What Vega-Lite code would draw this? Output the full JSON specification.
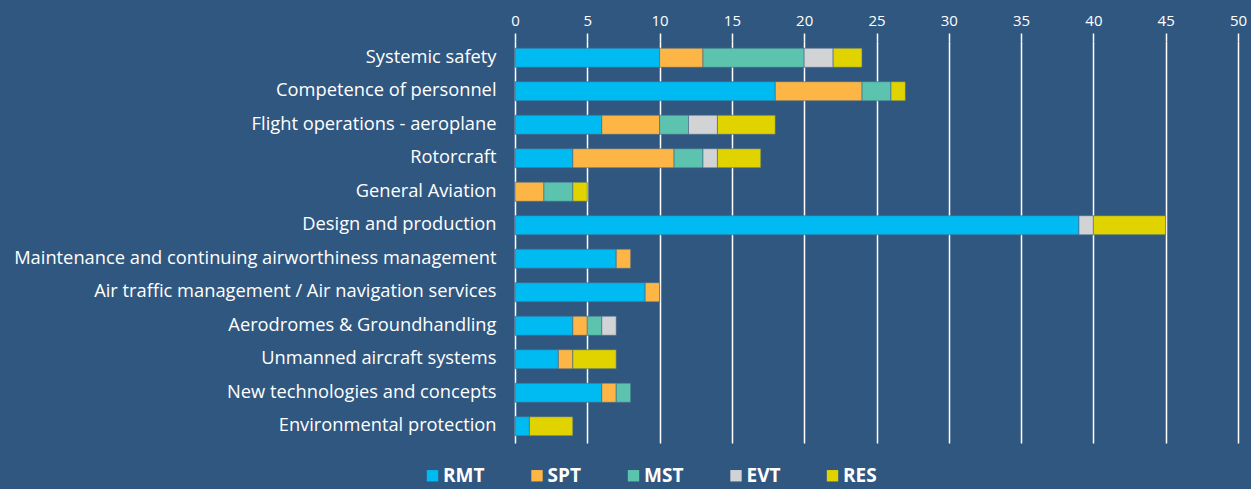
{
  "$schema": "https://vega.github.io/schema/vega-lite/v6.json",
  "autosize": {"type": "none"},
  "padding": {"left": 515, "top": 41, "right": 13, "bottom": 46},
  "width": 723,
  "height": 402,
  "background": "#30577f",
  "config": {
    "font": "Open Sans",
    "view": {"stroke": null}
  },
  "data": {
    "values": [
      {"area": "Systemic safety", "type": "RMT", "n": 10},
      {"area": "Systemic safety", "type": "SPT", "n": 3},
      {"area": "Systemic safety", "type": "MST", "n": 7},
      {"area": "Systemic safety", "type": "EVT", "n": 2},
      {"area": "Systemic safety", "type": "RES", "n": 2},
      {"area": "Competence of personnel", "type": "RMT", "n": 18},
      {"area": "Competence of personnel", "type": "SPT", "n": 6},
      {"area": "Competence of personnel", "type": "MST", "n": 2},
      {"area": "Competence of personnel", "type": "RES", "n": 1},
      {"area": "Flight operations - aeroplane", "type": "RMT", "n": 6},
      {"area": "Flight operations - aeroplane", "type": "SPT", "n": 4},
      {"area": "Flight operations - aeroplane", "type": "MST", "n": 2},
      {"area": "Flight operations - aeroplane", "type": "EVT", "n": 2},
      {"area": "Flight operations - aeroplane", "type": "RES", "n": 4},
      {"area": "Rotorcraft", "type": "RMT", "n": 4},
      {"area": "Rotorcraft", "type": "SPT", "n": 7},
      {"area": "Rotorcraft", "type": "MST", "n": 2},
      {"area": "Rotorcraft", "type": "EVT", "n": 1},
      {"area": "Rotorcraft", "type": "RES", "n": 3},
      {"area": "General Aviation", "type": "SPT", "n": 2},
      {"area": "General Aviation", "type": "MST", "n": 2},
      {"area": "General Aviation", "type": "RES", "n": 1},
      {"area": "Design and production", "type": "RMT", "n": 39},
      {"area": "Design and production", "type": "EVT", "n": 1},
      {"area": "Design and production", "type": "RES", "n": 5},
      {"area": "Maintenance and continuing airworthiness management", "type": "RMT", "n": 7},
      {"area": "Maintenance and continuing airworthiness management", "type": "SPT", "n": 1},
      {"area": "Air traffic management / Air navigation services", "type": "RMT", "n": 9},
      {"area": "Air traffic management / Air navigation services", "type": "SPT", "n": 1},
      {"area": "Aerodromes & Groundhandling", "type": "RMT", "n": 4},
      {"area": "Aerodromes & Groundhandling", "type": "SPT", "n": 1},
      {"area": "Aerodromes & Groundhandling", "type": "MST", "n": 1},
      {"area": "Aerodromes & Groundhandling", "type": "EVT", "n": 1},
      {"area": "Unmanned aircraft systems", "type": "RMT", "n": 3},
      {"area": "Unmanned aircraft systems", "type": "SPT", "n": 1},
      {"area": "Unmanned aircraft systems", "type": "RES", "n": 3},
      {"area": "New technologies and concepts", "type": "RMT", "n": 6},
      {"area": "New technologies and concepts", "type": "SPT", "n": 1},
      {"area": "New technologies and concepts", "type": "MST", "n": 1},
      {"area": "Environmental protection", "type": "RMT", "n": 1},
      {"area": "Environmental protection", "type": "RES", "n": 3}
    ]
  },
  "transform": [
    {"calculate": "indexof(['RMT','SPT','MST','EVT','RES'], datum.type)", "as": "typeOrder"}
  ],
  "mark": {"type": "bar", "stroke": "#44678a", "strokeWidth": 1, "strokeOpacity": 0.6},
  "encoding": {
    "y": {
      "field": "area",
      "type": "nominal",
      "sort": ["Systemic safety", "Competence of personnel", "Flight operations - aeroplane", "Rotorcraft", "General Aviation", "Design and production", "Maintenance and continuing airworthiness management", "Air traffic management / Air navigation services", "Aerodromes & Groundhandling", "Unmanned aircraft systems", "New technologies and concepts", "Environmental protection"],
      "scale": {"paddingInner": 0.43, "paddingOuter": 0.215},
      "axis": {
        "title": null,
        "domain": false,
        "ticks": false,
        "labelColor": "#ffffff",
        "labelFont": "Open Sans",
        "labelFontSize": 18.3,
        "labelPadding": 19,
        "labelLimit": 600
      }
    },
    "x": {
      "field": "n",
      "type": "quantitative",
      "stack": "zero",
      "scale": {"domain": [0, 50], "nice": false},
      "axis": {
        "orient": "top",
        "title": null,
        "values": [0, 5, 10, 15, 20, 25, 30, 35, 40, 45, 50],
        "domain": false,
        "grid": true,
        "gridColor": "#ffffff",
        "gridWidth": 1.5,
        "gridOpacity": 1,
        "ticks": true,
        "tickColor": "#ffffff",
        "tickWidth": 1.5,
        "tickSize": 8,
        "labelColor": "#ffffff",
        "labelFont": "Open Sans",
        "labelFontSize": 15,
        "labelPadding": 5,
        "labelFlush": false
      }
    },
    "color": {
      "field": "type",
      "type": "nominal",
      "sort": ["RMT", "SPT", "MST", "EVT", "RES"],
      "scale": {
        "domain": ["RMT", "SPT", "MST", "EVT", "RES"],
        "range": ["#00baf2", "#fdb645", "#5cc4ae", "#d2d3d5", "#e0d300"]
      },
      "legend": {
        "title": null,
        "orient": "none",
        "direction": "horizontal",
        "legendX": -92,
        "legendY": 425,
        "symbolType": "square",
        "symbolSize": 130,
        "symbolStrokeWidth": 0,
        "labelColor": "#ffffff",
        "labelFont": "Open Sans",
        "labelFontSize": 19,
        "labelFontWeight": "bold",
        "labelOffset": 1,
        "columnPadding": 42.5
      }
    },
    "order": {"field": "typeOrder", "type": "quantitative", "sort": "ascending"}
  }
}
